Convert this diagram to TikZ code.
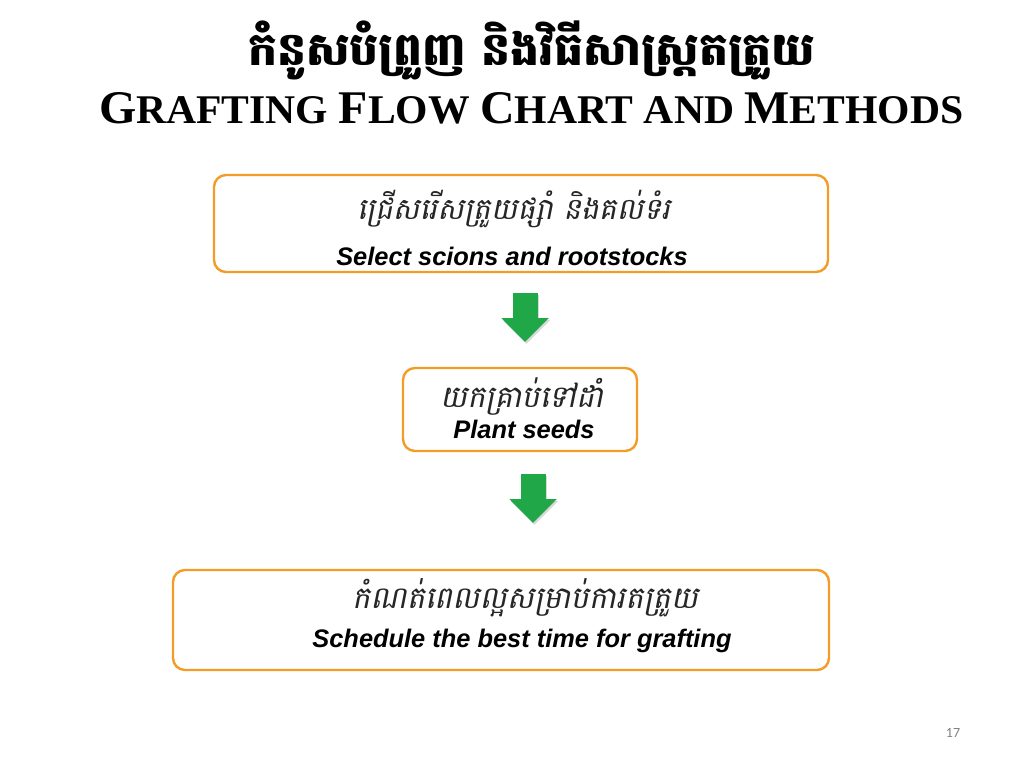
\documentclass[tikz,border=0pt]{standalone}
\usepackage{fontspec}
\usepackage{graphicx}
\usetikzlibrary{arrows.meta}
\setmainfont{Liberation Serif}
\newfontfamily\khmtitle[Script=Khmer]{Battambang}
\newfontfamily\khmit[Script=Khmer,FakeSlant=0.2]{Battambang}
\newfontfamily\arialf{Liberation Sans}
\newfontfamily\calibrif{Carlito}
\definecolor{boxorange}{RGB}{243,157,38}
\definecolor{arrgreen}{RGB}{32,168,72}
\definecolor{pagegray}{RGB}{128,128,128}
\newcommand\capbig[1]{{\fontsize{40}{40}\selectfont #1}}
\tikzset{
  stepbox/.style={draw=boxorange, line width=2.4pt, fill=white, rounded corners=12pt, inner sep=0pt},
  khmtext/.style={inner sep=0pt, anchor=base west, text=black!85},
  entext/.style={inner sep=0pt, anchor=base, font=\arialf\bfseries\itshape\fontsize{25.4}{30}\selectfont},
  blockarrow/.style={arrgreen, line width=25pt, -{Triangle[width=46pt,length=24pt]}},
  arrowshadow/.style={black, opacity=0.15, line width=25pt, -{Triangle[width=46pt,length=24pt]}}
}
\begin{document}
\begin{tikzpicture}[x=1pt,y=-1pt]
\useasboundingbox (0,0) rectangle (1024,768);
\fill[white] (0,0) rectangle (1024,768);
% titles
\node[inner sep=0pt, anchor=base west] (tkh) at (248,66)
  {\resizebox{567pt}{!}{\khmtitle\bfseries កំនូសបំព្រួញ និងវិធីសាស្រ្តតត្រួយ}};
\node[inner sep=0pt, anchor=base west] (ten) at (99,123)
  {\resizebox{864pt}{31pt}{\bfseries\fontsize{34.8}{40}\selectfont \capbig{G}RAFTING \capbig{F}LOW \capbig{C}HART AND \capbig{M}ETHODS}};
% boxes
\node[stepbox, minimum width=614pt, minimum height=97pt] (b1) at (521,223.5) {};
\node[stepbox, minimum width=234pt, minimum height=83pt] (b2) at (520,409.5) {};
\node[stepbox, minimum width=656pt, minimum height=100pt] (b3) at (501,620) {};
% box texts
\node[khmtext] (k1) at (357,219) {\resizebox{313pt}{!}{\khmit ជ្រើសរើសត្រួយផ្សាំ និងគល់ទំរ}};
\node[entext] (e1) at (512,265) {Select scions and rootstocks};
\node[khmtext] (k2) at (440,407) {\resizebox{163pt}{!}{\khmit យកគ្រាប់ទៅដាំ}};
\node[entext] (e2) at (524,438) {Plant seeds};
\node[khmtext] (k3) at (352,608) {\resizebox{346pt}{!}{\khmit កំណត់ពេលល្អសម្រាប់ការតត្រួយ}};
\node[entext] (e3) at (522,647) {Schedule the best time for grafting};
% arrows
\coordinate (a1s) at (525,293);
\coordinate (a1e) at (525,342);
\coordinate (a2s) at (533,474);
\coordinate (a2e) at (533,523);
\draw[arrowshadow] ([shift={(1.5,2)}]a1s) -- ([shift={(1.5,2)}]a1e);
\draw[arrowshadow] ([shift={(1.5,2)}]a2s) -- ([shift={(1.5,2)}]a2e);
\draw[blockarrow] (a1s) -- (a1e);
\draw[blockarrow] (a2s) -- (a2e);
% page number
\node[inner sep=0pt, text=pagegray, font=\calibrif\fontsize{14}{16}\selectfont] (pg) at (953,733) {17};
\end{tikzpicture}
\end{document}
